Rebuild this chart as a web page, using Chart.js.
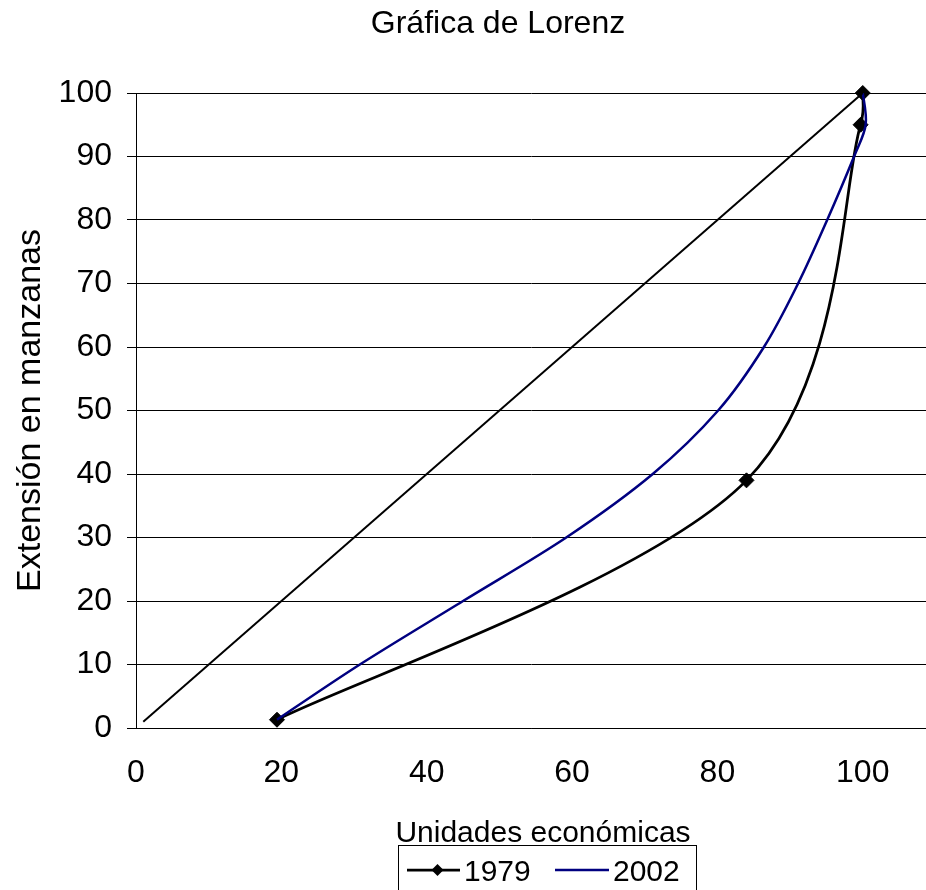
<!DOCTYPE html>
<html>
<head>
<meta charset="utf-8">
<script src="https://cdn.jsdelivr.net/npm/chart.js@4.4.1/dist/chart.umd.min.js"></script>
<style>
  html, body { margin: 0; padding: 0; background: #fff; overflow: hidden; }
  #wrap { width: 926px; height: 890px; position: relative; }
</style>
</head>
<body>
<div id="wrap"><canvas id="c"></canvas></div>
<script>
// ---- data ----
const chartTitle = 'Gráfica de Lorenz';
const xTitle = 'Unidades económicas';
const yTitle = 'Extensión en manzanas';
const seriesNames = ['1979', '2002'];

const x1979 = [19.4, 84.0, 99.7, 100.0];
const y1979 = [1.3, 39.0, 95.0, 100.0];

const x2002 = [19.4, 30.8, 45.0, 59.2, 71.1, 80.1, 86.4, 91.1, 95.1, 98.8, 100.4, 100.0];
const y2002 = [1.3, 10.0, 20.0, 30.0, 40.0, 50.0, 60.0, 70.0, 80.0, 90.0, 95.0, 100.0];

const xEquality = [1, 100];
const yEquality = [1, 100];

const xTicks = [0, 20, 40, 60, 80, 100];
const yTicks = [0, 10, 20, 30, 40, 50, 60, 70, 80, 90, 100];

const FONT = '"Liberation Sans", Arial, Helvetica, sans-serif';
const toPts = (xs, ys) => xs.map((x, i) => ({ x: x, y: ys[i] }));

// Excel-like smoothing: control points at p +/- (next - prev)/6,
// limited to half the length of the adjacent segment
const excelSmooth = {
  id: 'excelSmooth',
  beforeDatasetsDraw(chart) {
    chart.data.datasets.forEach((ds, i) => {
      if (!ds.excelSmooth) return;
      const meta = chart.getDatasetMeta(i);
      const line = meta.dataset;
      if (line && line.updateControlPoints) line.updateControlPoints(chart.chartArea, 'x');
      const pts = meta.data;
      for (let k = 0; k < pts.length; k++) {
        const p = pts[k];
        const prev = pts[k - 1] || p;
        const next = pts[k + 1] || p;
        const dx = (next.x - prev.x) / 6;
        const dy = (next.y - prev.y) / 6;
        const len = Math.hypot(dx, dy) || 1;
        const dPrev = Math.hypot(p.x - prev.x, p.y - prev.y);
        const dNext = Math.hypot(next.x - p.x, next.y - p.y);
        const s1 = Math.min(1, 0.5 * dPrev / len);
        const s2 = Math.min(1, 0.5 * dNext / len);
        p.cp1x = p.x - dx * s1; p.cp1y = p.y - dy * s1;
        p.cp2x = p.x + dx * s2; p.cp2y = p.y + dy * s2;
      }
    });
  }
};

// Title, x-axis title and boxed legend
const decorations = {
  id: 'decorations',
  afterDraw(chart) {
    const ctx = chart.ctx;
    ctx.save();
    ctx.fillStyle = '#000';
    ctx.textBaseline = 'alphabetic';
    ctx.textAlign = 'center';
    ctx.font = '32px ' + FONT;
    ctx.fillText(chartTitle, 498, 33);
    ctx.font = '30px ' + FONT;
    ctx.fillText(xTitle, 543, 842);

    // legend box
    ctx.strokeStyle = '#000';
    ctx.lineWidth = 1;
    ctx.strokeRect(398.5, 845.5, 298, 60);

    // 1979 entry
    ctx.strokeStyle = '#000';
    ctx.lineWidth = 2.75;
    ctx.beginPath(); ctx.moveTo(407, 870); ctx.lineTo(460, 870); ctx.stroke();
    ctx.beginPath();
    ctx.moveTo(437.5 - 6, 870); ctx.lineTo(437.5, 864); ctx.lineTo(437.5 + 6, 870); ctx.lineTo(437.5, 876);
    ctx.closePath(); ctx.fill();
    ctx.textAlign = 'left';
    ctx.font = '30px ' + FONT;
    ctx.fillText(seriesNames[0], 464, 881);

    // 2002 entry
    ctx.strokeStyle = '#000080';
    ctx.lineWidth = 2.5;
    ctx.beginPath(); ctx.moveTo(555, 870); ctx.lineTo(609, 870); ctx.stroke();
    ctx.fillText(seriesNames[1], 613, 881);
    ctx.restore();
  }
};

new Chart(document.getElementById('c'), {
  type: 'scatter',
  data: {
    datasets: [
      {
        label: 'Igualdad',
        data: toPts(xEquality, yEquality),
        showLine: true,
        borderColor: '#000',
        borderWidth: 2,
        pointRadius: 0,
        tension: 0,
        clip: false
      },
      {
        label: seriesNames[1],
        data: toPts(x2002, y2002),
        showLine: true,
        borderColor: '#000080',
        borderWidth: 2.5,
        pointRadius: 0,
        tension: 0.4,
        excelSmooth: true,
        clip: false
      },
      {
        label: seriesNames[0],
        data: toPts(x1979, y1979),
        showLine: true,
        borderColor: '#000',
        borderWidth: 2.75,
        pointStyle: 'rectRot',
        pointRadius: 7.5,
        pointBorderWidth: 1,
        pointBackgroundColor: '#000',
        pointBorderColor: '#000',
        tension: 0.4,
        excelSmooth: true,
        clip: false
      }
    ]
  },
  options: {
    responsive: true,
    maintainAspectRatio: false,
    animation: false,
    events: [],
    layout: { autoPadding: false, padding: { top: 93, left: 0, right: 0, bottom: 0 } },
    plugins: {
      legend: { display: false },
      title: { display: false },
      tooltip: { enabled: false }
    },
    scales: {
      x: {
        type: 'linear',
        min: 0,
        max: 108.7,
        afterBuildTicks(scale) { scale.ticks = xTicks.map(v => ({ value: v })); },
        afterFit(scale) { scale.height = 162; scale.paddingRight = 0; scale.paddingLeft = 0; },
        grid: { display: true, drawOnChartArea: false, drawTicks: false },
        border: { display: true, color: '#000', width: 1 },
        ticks: {
          padding: 26,
          color: '#000',
          font: { family: FONT, size: 32 },
          maxRotation: 0,
          autoSkip: false
        }
      },
      y: {
        type: 'linear',
        min: 0,
        max: 100,
        afterBuildTicks(scale) { scale.ticks = yTicks.map(v => ({ value: v })); },
        afterFit(scale) { scale.width = 136; },
        grid: { color: '#000', lineWidth: 1, tickLength: 9, tickColor: '#000' },
        border: { display: true, color: '#000', width: 1 },
        ticks: {
          padding: 15,
          color: '#000',
          font: { family: FONT, size: 32 },
          autoSkip: false
        },
        title: {
          display: true,
          text: yTitle,
          color: '#000',
          font: { family: FONT, size: 34 },
          padding: { top: 10, bottom: 0 }
        }
      }
    }
  },
  plugins: [excelSmooth, decorations]
});
</script>
</body>
</html>
